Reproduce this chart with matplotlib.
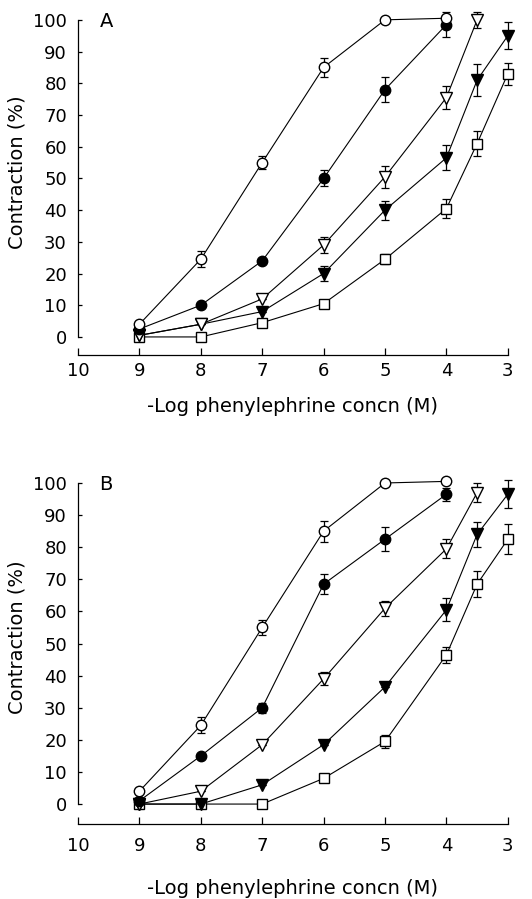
import matplotlib.pyplot as plt

plt.rcParams['font.family'] = ['DejaVu Sans']

# -log phenylephrine concentration (M)
x_all = [9, 8, 7, 6, 5, 4, 3.5, 3]

# panel A
a_circ_open = [4, 24.5, 55, 85, 100, 100.5]
a_circ_open_err = [0, 2.5, 2, 3, 0, 0]
a_circ_fill = [2.5, 10, 24, 50, 78, 98.5]
a_circ_fill_err = [0, 0, 0, 2.5, 4, 4]
a_tri_open = [0.5, 4, 12, 29, 50.5, 75.5, 100]
a_tri_open_err = [0, 0, 0, 2.5, 3.5, 3.5, 2.5]
a_tri_fill = [0.5, 4, 8, 20, 40, 56.5, 81, 95]
a_tri_fill_err = [0, 0, 0, 2.5, 3, 4, 5, 4.3]
a_sq = [0, 0, 4.5, 10.5, 24.5, 40.5, 61, 83]
a_sq_err = [0, 0, 0, 0, 1.5, 3, 3.8, 3.4]

# panel B
b_circ_open = [4, 24.5, 55, 85, 100, 100.5]
b_circ_open_err = [0, 2.5, 2.3, 3.3, 0, 0]
b_circ_fill = [1, 15, 30, 68.5, 82.5, 96.5]
b_circ_fill_err = [0, 0, 1.5, 3, 3.7, 2]
b_tri_open = [0, 4, 18.5, 39, 61, 79.5, 97]
b_tri_open_err = [0, 0, 0, 2, 2.3, 3, 3]
b_tri_fill = [0, 0, 6, 18.5, 36.5, 60.5, 84, 96.5]
b_tri_fill_err = [0, 0, 0, 0, 0, 3.6, 3.8, 4.4]
b_sq = [0, 0, 0, 8, 19.5, 46.5, 68.5, 82.5]
b_sq_err = [0, 0, 0, 0, 2, 2.5, 4, 4.7]

xticks = [10, 9, 8, 7, 6, 5, 4, 3]
yticks = [0, 10, 20, 30, 40, 50, 60, 70, 80, 90, 100]


def draw_series(ax, y, err, marker, face, ms):
    xs = x_all[:len(y)]
    ax.errorbar(xs, y, yerr=err, fmt='none', ecolor='black', elinewidth=0.9,
                capsize=3, capthick=0.9, clip_on=False, zorder=2)
    ax.plot(xs, y, '-', color='black', lw=0.8, marker=marker, ms=ms,
            mfc=face, mec='black', mew=1.0, clip_on=False, zorder=3)


def panel(ax, series, letter, ybottom, tickpad, labely):
    for y, err, marker, face, ms in series:
        draw_series(ax, y, err, marker, face, ms)
    ax.set_xlim(10, 3)
    ax.set_ylim(ybottom, 102)
    ax.spines['top'].set_visible(False)
    ax.spines['right'].set_visible(False)
    ax.spines['left'].set_bounds(0, 100)
    ax.spines['left'].set_linewidth(0.9)
    ax.spines['bottom'].set_linewidth(0.9)
    ax.set_xticks(xticks)
    ax.set_yticks(yticks)
    ax.tick_params(axis='both', direction='in', labelsize=13, width=0.9)
    ax.tick_params(axis='x', length=5, pad=tickpad)
    ax.tick_params(axis='y', length=3, pad=8)
    ax.set_xlabel('-Log phenylephrine concn (M)', fontsize=14, va='center')
    ax.xaxis.set_label_coords(0.5, labely)
    ax.set_ylabel('Contraction (%)', fontsize=14, va='center')
    ax.yaxis.set_label_coords(-0.142, (52 - ybottom) / (102 - ybottom))
    ax.text(9.54, 99.5, letter, fontsize=14, ha='center', va='center')


fig = plt.figure(figsize=(5.32, 8.99), dpi=100)
ax1 = fig.add_axes([0.1466, 0.6051, 0.808, 0.3799])
ax2 = fig.add_axes([0.1466, 0.0831, 0.808, 0.3868])

panel(ax1, [
    (a_sq, a_sq_err, 's', 'white', 6.5),
    (a_tri_fill, a_tri_fill_err, 'v', 'black', 8.5),
    (a_tri_open, a_tri_open_err, 'v', 'white', 8.5),
    (a_circ_fill, a_circ_fill_err, 'o', 'black', 7.5),
    (a_circ_open, a_circ_open_err, 'o', 'white', 7.5),
], 'A', -5.7, 5, -0.152)

panel(ax2, [
    (b_sq, b_sq_err, 's', 'white', 6.5),
    (b_tri_fill, b_tri_fill_err, 'v', 'black', 8.5),
    (b_tri_open, b_tri_open_err, 'v', 'white', 8.5),
    (b_circ_fill, b_circ_fill_err, 'o', 'black', 7.5),
    (b_circ_open, b_circ_open_err, 'o', 'white', 7.5),
], 'B', -6.3, 9, -0.184)

plt.savefig('out.png', dpi=100)
